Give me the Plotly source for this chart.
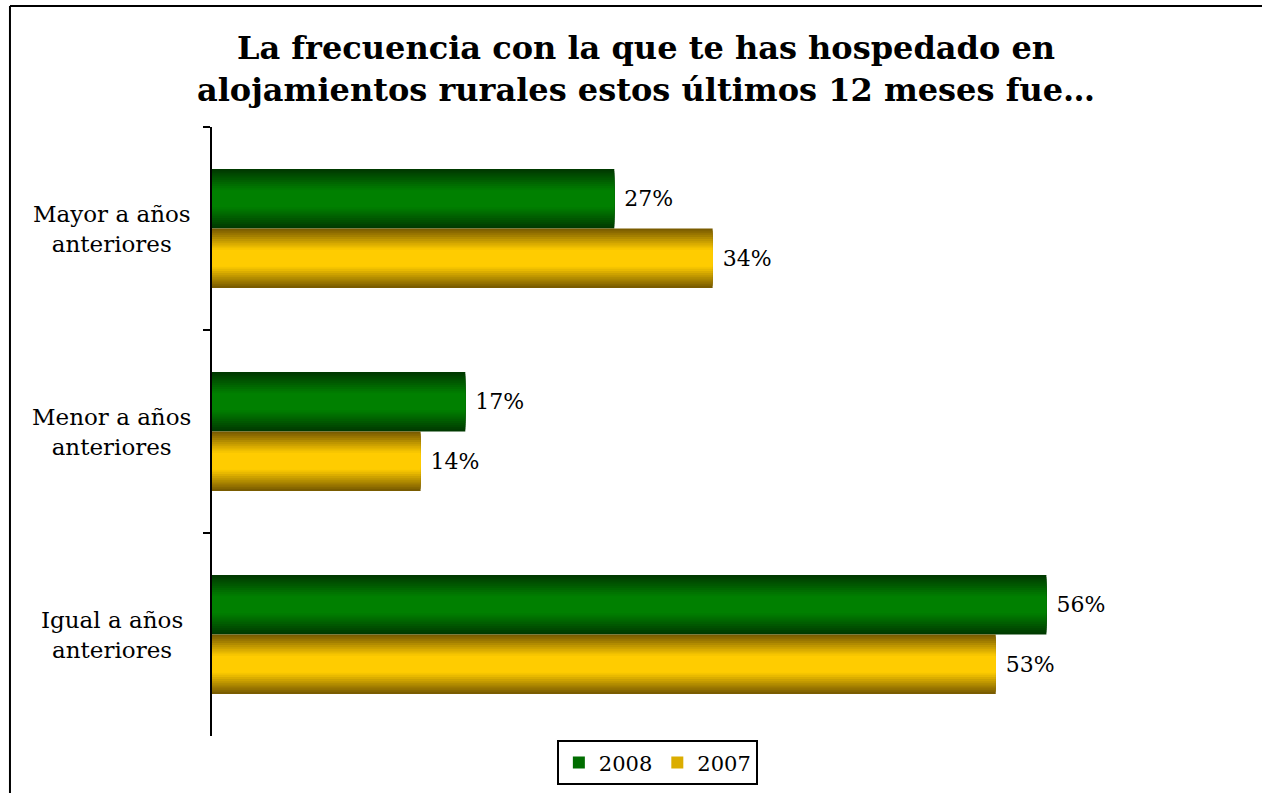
import plotly.graph_objects as go

# ---- data ----
categories = ["Mayor a años anteriores", "Menor a años anteriores", "Igual a años anteriores"]
category_labels = ["Mayor a años<br>anteriores", "Menor a años<br>anteriores", "Igual a años<br>anteriores"]
series_names = ["2008", "2007"]
values_2008 = [27.0, 17.0, 56.0]
values_2007 = [33.6, 14.0, 52.6]
title_text = "La frecuencia con la que te has hospedado en<br>alojamientos rurales estos últimos 12 meses fue…"

# ---- styling ----
FONT = "DejaVu Serif"
BAR_W = 0.293
N_LAYERS = 14
series_styles = [
    dict(name=series_names[0], values=values_2008, center=-BAR_W / 2,
         edge=(0, 58, 0), mid=(0, 128, 0)),
    dict(name=series_names[1], values=values_2007, center=BAR_W / 2,
         edge=(122, 92, 0), mid=(255, 204, 0)),
]


def mix(c1, c2, t):
    return "rgb({},{},{})".format(*[round(a + (b - a) * t) for a, b in zip(c1, c2)])


fig = go.Figure()
for s in series_styles:
    for k in range(N_LAYERS):
        frac = k / (N_LAYERS - 1)
        t = min(1.0, 1.35 * frac)
        w = BAR_W * (1 - k / N_LAYERS)
        first = k == 0
        fig.add_trace(go.Bar(
            y=categories,
            x=s["values"],
            orientation="h",
            name=s["name"],
            legendgroup=s["name"],
            showlegend=(k == N_LAYERS // 2),
            width=w,
            offset=s["center"] - w / 2,
            marker=dict(color=mix(s["edge"], s["mid"], t), line=dict(width=0)),
            texttemplate="\u00a0%{x:.0f}%" if first else None,
            textposition="outside" if first else "none",
            textfont=dict(family=FONT, size=22, color="black"),
            constraintext="none",
            cliponaxis=False,
            hoverinfo="skip" if not first else None,
        ))

# category labels (centered, two lines)
for cat, lab in zip(categories, category_labels):
    fig.add_annotation(x=-0.096, xref="paper", y=cat, yref="y", text=lab,
                       showarrow=False, xanchor="center", align="center",
                       font=dict(family=FONT, size=23, color="black"))

# outer border (only top and left edges fall inside the picture)
fig.add_shape(type="line", xref="paper", yref="paper",
              x0=-0.1937, x1=1.2, y0=1.1987, y1=1.1987,
              line=dict(color="black", width=2), layer="below")
fig.add_shape(type="line", xref="paper", yref="paper",
              x0=-0.1937, x1=-0.1937, y0=-0.3, y1=1.1987,
              line=dict(color="black", width=2), layer="below")

fig.update_layout(
    width=1262, height=793,
    margin=dict(l=212, r=7, t=127, b=57, autoexpand=False),
    paper_bgcolor="white", plot_bgcolor="white",
    barmode="overlay",
    font=dict(family=FONT, size=22, color="black"),
    title=dict(text="<b>" + title_text + "</b>", x=646 / 1262, xanchor="center",
               xref="container", y=1 - 59 / 793, yanchor="top",
               font=dict(family=FONT, size=32, color="black")),
    xaxis=dict(range=[0, 70], visible=False, showgrid=False, zeroline=False),
    yaxis=dict(autorange="reversed", categoryorder="array", categoryarray=categories,
               showticklabels=False, showline=True, linecolor="black", linewidth=2,
               ticks="outside", ticklen=7, tickwidth=2, tickcolor="black",
               tickson="boundaries", showgrid=False, zeroline=False),
    legend=dict(orientation="h", x=0.427, xanchor="center", y=-0.007, yanchor="top",
                bordercolor="black", borderwidth=2, bgcolor="white",
                font=dict(family=FONT, size=21, color="black"),
                traceorder="normal", itemsizing="constant"),
    showlegend=True,
)

fig.write_html("out.html", config={"displayModeBar": False},
               post_script="document.body.style.margin='0';document.body.style.overflow='hidden';")
